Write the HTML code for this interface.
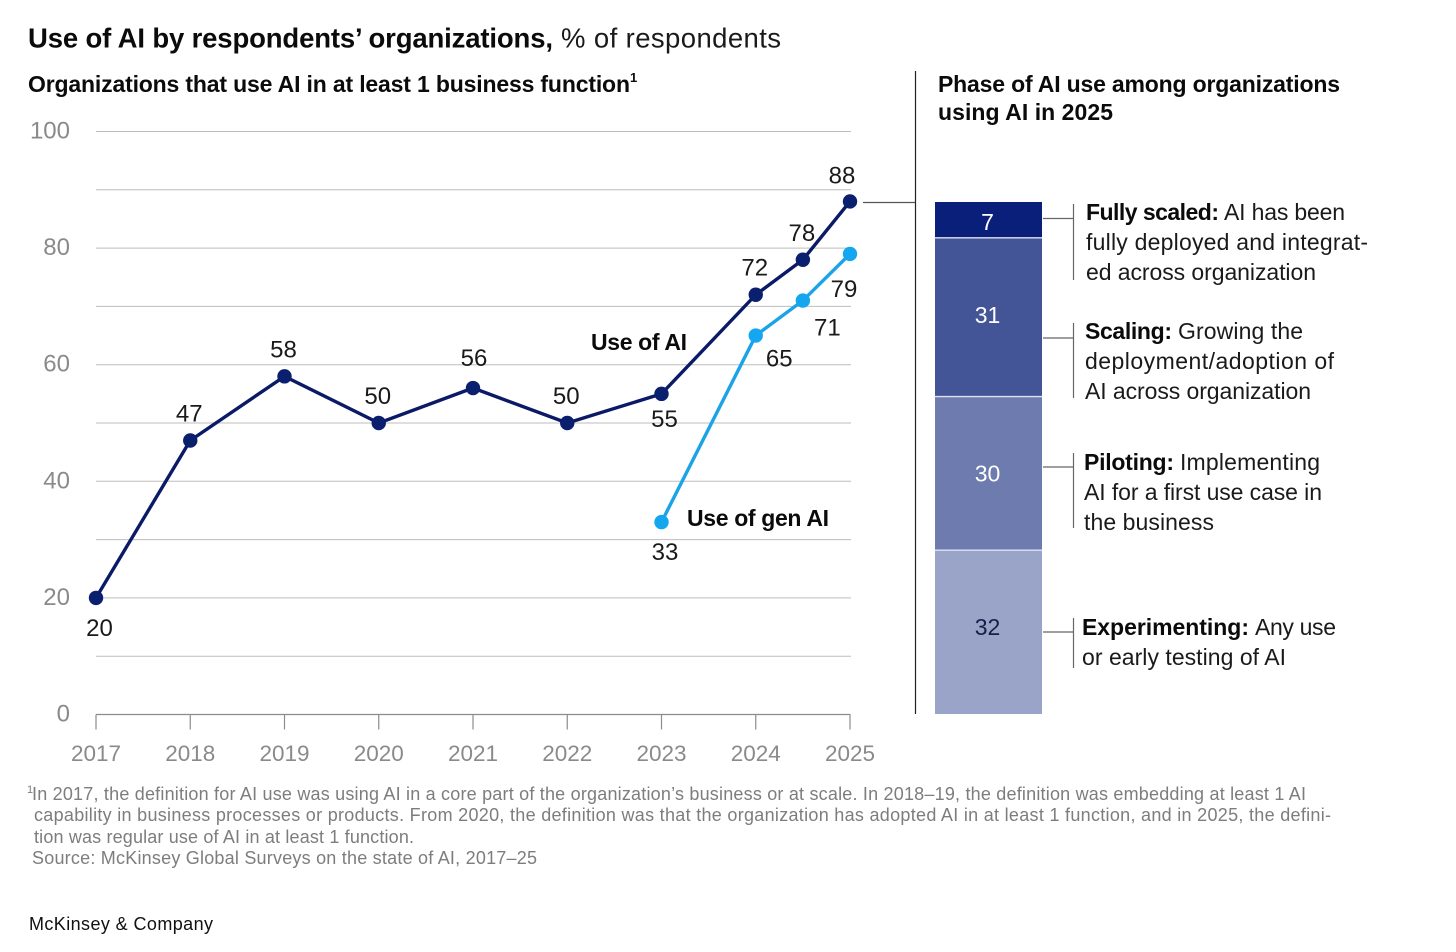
<!DOCTYPE html>
<html lang="en">
<head>
<meta charset="utf-8">
<title>Use of AI by respondents' organizations</title>
<style>
html,body{margin:0;padding:0;background:#fff;width:1456px;height:952px;overflow:hidden}
svg{display:block;font-family:"Liberation Sans",sans-serif}
.b{font-weight:700;fill:#0b0b0b}
.r{fill:#1a1a1a}
.co{font-size:23px}
.fn{font-size:18px;fill:#7d7d7d}
</style>
</head>
<body>
<svg id="chart" width="1456" height="952" viewBox="0 0 1456 952" xmlns="http://www.w3.org/2000/svg">
  <rect width="1456" height="952" fill="#fff"/>
  <text class="b" x="28" y="47.5" font-size="27.5" textLength="525">Use of AI by respondents’ organizations,</text>
  <text class="r" x="561" y="47.5" font-size="27.5" textLength="220" fill="#333">% of respondents</text>
  <text class="b" x="28" y="92" font-size="23" textLength="602">Organizations that use AI in at least 1 business function</text>
  <text class="b" x="630" y="82" font-size="13">1</text>
  <text class="b" x="938" y="92" font-size="23" textLength="402">Phase of AI use among organizations</text>
  <text class="b" x="938" y="120" font-size="23" textLength="175">using AI in 2025</text>

  <g id="grid"></g>
  <g id="yticks"></g>
  <g id="xticks"></g>
  <g id="series"></g>
  <g id="stack"></g>

  <text class="b" x="591" y="350" font-size="23" textLength="96">Use of AI</text>
  <text class="b" x="687" y="526" font-size="23" textLength="142">Use of gen AI</text>

  <line x1="915.5" y1="71" x2="915.5" y2="714" stroke="#222" stroke-width="1.2"/>
  <line x1="863" y1="202.5" x2="915" y2="202.5" stroke="#555" stroke-width="1.2"/>

  <g>
    <path d="M1043 218.5H1073.5M1073.5 204V280" fill="none" stroke="#666" stroke-width="1.2"/>
    <text class="b co" x="1086" y="220" textLength="133">Fully scaled:</text>
    <text class="r co" x="1224" y="220" textLength="121">AI has been</text>
    <text class="r co" x="1086" y="250" textLength="282">fully deployed and integrat-</text>
    <text class="r co" x="1086" y="280" textLength="230">ed across organization</text>
  </g>
  <g>
    <path d="M1043 338H1073.5M1073.5 323V398" fill="none" stroke="#666" stroke-width="1.2"/>
    <text class="b co" x="1085" y="339" textLength="87">Scaling:</text>
    <text class="r co" x="1178" y="339" textLength="125">Growing the</text>
    <text class="r co" x="1085" y="369" textLength="249">deployment/adoption of</text>
    <text class="r co" x="1085" y="399" textLength="226">AI across organization</text>
  </g>
  <g>
    <path d="M1043 467H1073.5M1073.5 453V528" fill="none" stroke="#666" stroke-width="1.2"/>
    <text class="b co" x="1084" y="470" textLength="90">Piloting:</text>
    <text class="r co" x="1180" y="470" textLength="140">Implementing</text>
    <text class="r co" x="1084" y="500" textLength="238">AI for a first use case in</text>
    <text class="r co" x="1084" y="530" textLength="130">the business</text>
  </g>
  <g>
    <path d="M1043 632H1073.5M1073.5 618V668" fill="none" stroke="#666" stroke-width="1.2"/>
    <text class="b co" x="1082" y="635" textLength="167">Experimenting:</text>
    <text class="r co" x="1255" y="635" textLength="81">Any use</text>
    <text class="r co" x="1082" y="665" textLength="204">or early testing of AI</text>
  </g>

  <g>
    <text class="fn" x="27" y="793" style="font-size:11px">1</text>
    <text class="fn" x="32" y="800" textLength="1274">In 2017, the definition for AI use was using AI in a core part of the organization’s business or at scale. In 2018–19, the definition was embedding at least 1 AI</text>
    <text class="fn" x="34" y="821" textLength="1297">capability in business processes or products. From 2020, the definition was that the organization has adopted AI in at least 1 function, and in 2025, the defini-</text>
    <text class="fn" x="34" y="843" textLength="380">tion was regular use of AI in at least 1 function.</text>
    <text class="fn" x="32" y="864" textLength="505">Source: McKinsey Global Surveys on the state of AI, 2017–25</text>
  </g>
  <text x="29" y="930" font-size="18" textLength="184" fill="#111">McKinsey &amp; Company</text>
</svg>
<script>
// ---- chart data ----
const yTicks = [0, 20, 40, 60, 80, 100];
const gridValues = [10, 20, 30, 40, 50, 60, 70, 80, 90, 100];
const xTickYears = [2017, 2018, 2019, 2020, 2021, 2022, 2023, 2024, 2025];
const aiPeriods = [2017, 2018, 2019, 2020, 2021, 2022, 2023, 2024, 2024.5, 2025];
const aiValues = [20, 47, 58, 50, 56, 50, 55, 72, 78, 88];
const aiLabelSides = ['far-below', 'above', 'above', 'above', 'high-above', 'above', 'below', 'above', 'above', 'above-left'];
const genAiPeriods = [2023, 2024, 2024.5, 2025];
const genAiValues = [33, 65, 71, 79];
const genAiLabelSides = ['far-below', 'lower-right', 'far-lower-right', 'lower-left'];
const phaseNames = ['experimenting', 'piloting', 'scaling', 'fully-scaled'];
const phaseValues = [32, 30, 31, 7];
const phaseColors = ['#9aa4c8', '#6d7bae', '#435596', '#0a1f7a'];
const phaseTextColors = ['#14204a', '#ffffff', '#ffffff', '#ffffff'];

// ---- axis functions ----
const NS = 'http://www.w3.org/2000/svg';
function xScale(t) { return 96 + (t - 2017) * 94.25; }
function yScale(v) { return 714.5 - v * 5.83; }
function stackY(v) { return 714 - v * 5.12; }
function make(tag, parent, props, text) {
  const el = document.createElementNS(NS, tag);
  for (const k in props) el.setAttribute(k, props[k]);
  if (text !== undefined) el.textContent = text;
  parent.appendChild(el);
  return el;
}
function labelOffset(side) {
  if (side === 'below') return [3, 33];
  if (side === 'far-below') return [3.5, 38];
  if (side === 'lower-right') return [23.5, 31];
  if (side === 'far-lower-right') return [24.5, 35];
  if (side === 'lower-left') return [-6, 43];
  if (side === 'above-left') return [-8, -18];
  if (side === 'high-above') return [1, -22];
  return [-1, -19];
}
function stackLabelNudge(name) {
  if (name === 'experimenting') return -5;
  if (name === 'scaling') return -2;
  if (name === 'fully-scaled') return 2;
  return 0;
}

const gridG = document.getElementById('grid');
gridValues.forEach(function (v) {
  const l = make('line', gridG, { x1: 96, x2: 851, y1: yScale(v), y2: yScale(v), stroke: '#bdbdbd', 'stroke-width': 1 });
  
  
});

const yG = document.getElementById('yticks');
yTicks.forEach(function (v) {
  const t = make('text', yG, { x: 70, y: yScale(v) + 7, 'text-anchor': 'end', 'font-size': 24, fill: '#8a8a8a' }, String(v));
  
  
});

const xG = document.getElementById('xticks');
const axisLine = make('line', xG, { x1: xScale(2017), x2: xScale(2025) + 0.5, y1: yScale(0), y2: yScale(0), stroke: '#8c8c8c', 'stroke-width': 1.2 });


xTickYears.forEach(function (yr) {
  const tk = make('line', xG, { x1: xScale(yr), x2: xScale(yr), y1: yScale(0), y2: yScale(0) + 15, stroke: '#8c8c8c', 'stroke-width': 1.2 });
  
  
  const lb = make('text', xG, { x: xScale(yr), y: 761, 'text-anchor': 'middle', 'font-size': 22.5, fill: '#8a8a8a' }, String(yr));
  
  
});

const seriesG = document.getElementById('series');
function drawSeries(name, periods, values, sides, color, dotColor) {
  const pts = periods.map(function (p, i) { return xScale(p) + ',' + yScale(values[i]); }).join(' ');
  const line = make('polyline', seriesG, { points: pts, fill: 'none', stroke: color, 'stroke-width': 3.4, 'stroke-linejoin': 'round' });
  
  
  periods.forEach(function (p, i) {
    const c = make('circle', seriesG, { cx: xScale(p), cy: yScale(values[i]), r: 7.2, fill: dotColor });
    
    
    const off = labelOffset(sides[i]);
    const t = make('text', seriesG, { x: xScale(p) + off[0], y: yScale(values[i]) + off[1], 'text-anchor': 'middle', 'font-size': 24, fill: '#1a1a1a' }, String(values[i]));
    
    
  });
}
drawSeries('use-of-ai', aiPeriods, aiValues, aiLabelSides, '#0b1a66', '#0a1f6e');
drawSeries('use-of-gen-ai', genAiPeriods, genAiValues, genAiLabelSides, '#1ba3e8', '#14a7f0');

const stackG = document.getElementById('stack');
let cumulative = 0;
phaseValues.forEach(function (v, i) {
  const y0 = stackY(cumulative);
  const y1 = stackY(cumulative + v);
  const r = make('rect', stackG, { x: 935, y: y1, width: 107, height: y0 - y1, fill: phaseColors[i] });
  
  
  if (cumulative > 0) {
    const sep = make('line', stackG, { x1: 935, x2: 1042, y1: y0, y2: y0, stroke: '#dfe3f0', 'stroke-width': 1.4 });
    
    
  }
  const t = make('text', stackG, { x: 987.5, y: (y0 + y1) / 2 + 8 + stackLabelNudge(phaseNames[i]), 'text-anchor': 'middle', 'font-size': 23, fill: phaseTextColors[i] }, String(v));
  
  
  cumulative += v;
});
</script>
</body>
</html>
